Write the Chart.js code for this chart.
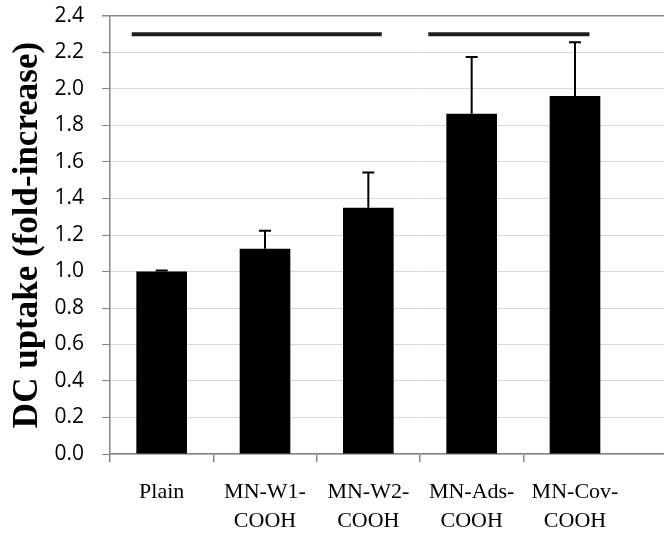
<!DOCTYPE html>
<html>
<head>
<meta charset="utf-8">
<script src="https://cdn.jsdelivr.net/npm/chart.js@4/dist/chart.umd.min.js"></script>
<style>
  html, body { margin: 0; padding: 0; background: #fff; overflow: hidden; }
  #wrap { width: 664px; height: 535px; overflow: hidden; }
  canvas { display: block; }
</style>
</head>
<body>
<div id="wrap"><canvas id="chart" width="740" height="535"></canvas></div>
<script>
// Groups on the x axis (two-line labels)
const categories = [
  ['Plain'],
  ['MN-W1-', 'COOH'],
  ['MN-W2-', 'COOH'],
  ['MN-Ads-', 'COOH'],
  ['MN-Cov-', 'COOH']
];
// Mean DC uptake (fold-increase) and upper error (SD)
const uptake = [1.00, 1.125, 1.35, 1.865, 1.962];
const uptakeErr = [0.005, 0.098, 0.192, 0.311, 0.294];
// Y axis ticks
const yTicks = [0.0, 0.2, 0.4, 0.6, 0.8, 1.0, 1.2, 1.4, 1.6, 1.8, 2.0, 2.2, 2.4];
// Significance brackets: level and span in category units
const sigLevel = 2.3;
const sigSpanA = [-0.29, 2.13];
const sigSpanB = [2.58, 4.14];

const axisGray = '#868686';
const gridGray = '#d9d9d9';

// Upward-only error bars drawn on top of each bar
const errorBars = {
  id: 'errorBars',
  afterDatasetsDraw(chart) {
    const meta = chart.getDatasetMeta(0);
    const y = chart.scales.y;
    const ctx = chart.ctx;
    ctx.save();
    ctx.strokeStyle = '#000';
    ctx.lineWidth = 2;
    meta.data.forEach((bar, i) => {
      if (uptake[i] == null) return;
      const yTop = y.getPixelForValue(uptake[i]);
      const yCap = y.getPixelForValue(uptake[i] + uptakeErr[i]);
      ctx.beginPath();
      ctx.moveTo(bar.x, yTop);
      ctx.lineTo(bar.x, yCap);
      ctx.moveTo(bar.x - 6, yCap);
      ctx.lineTo(bar.x + 6, yCap);
      ctx.stroke();
    });
    ctx.restore();
  }
};

// One spare empty slot keeps the plot running past the right edge
const xLabels = categories.concat(['']);
const barValues = uptake.concat([null]);

new Chart(document.getElementById('chart'), {
  type: 'bar',
  data: {
    labels: xLabels,
    datasets: [
      {
        type: 'bar',
        data: barValues,
        backgroundColor: '#000',
        borderWidth: 0,
        grouped: false,
        categoryPercentage: 0.49,
        barPercentage: 1.0,
        xAxisID: 'x',
        yAxisID: 'y',
        order: 2
      },
      {
        type: 'line',
        data: [{ x: sigSpanA[0], y: sigLevel }, { x: sigSpanA[1], y: sigLevel }],
        borderColor: '#1e1e1e',
        borderWidth: 4,
        pointRadius: 0,
        borderCapStyle: 'butt',
        xAxisID: 'xs',
        yAxisID: 'y',
        order: 1
      },
      {
        type: 'line',
        data: [{ x: sigSpanB[0], y: sigLevel }, { x: sigSpanB[1], y: sigLevel }],
        borderColor: '#1e1e1e',
        borderWidth: 4,
        pointRadius: 0,
        borderCapStyle: 'butt',
        xAxisID: 'xs',
        yAxisID: 'y',
        order: 1
      }
    ]
  },
  options: {
    responsive: false,
    animation: false,
    devicePixelRatio: 1,
    layout: { padding: { left: 0, right: 10, top: 16, bottom: 0 } },
    plugins: { legend: { display: false }, tooltip: { enabled: false } },
    scales: {
      x: {
        type: 'category',
        offset: true,
        afterFit(scale) { scale.height = 81; scale.paddingTop = 0; },
        grid: {
          offset: true,
          drawOnChartArea: false,
          drawTicks: true,
          tickLength: 8,
          lineWidth: 1.5,
          color: (c) => (c.index <= 4 ? axisGray : 'rgba(0,0,0,0)')
        },
        border: { display: true, color: axisGray, width: 1.5 },
        ticks: {
          color: '#000',
          padding: 16,
          maxRotation: 0,
          autoSkip: false,
          font: { family: '"Liberation Serif", "Times New Roman", serif', size: 22, lineHeight: 1.3 }
        }
      },
      xs: {
        type: 'linear',
        display: false,
        offset: false,
        grid: { offset: false },
        min: -0.5,
        max: 5.5
      },
      y: {
        min: 0,
        max: 2.4,
        afterBuildTicks(scale) {
          scale.ticks = yTicks.map(v => ({ value: v }));
        },
        afterFit(scale) { scale.width = 110; scale.paddingTop = 0; scale.paddingBottom = 0; },
        grid: {
          color: (c) => (c.tick && c.tick.value >= 2.4 ? axisGray : gridGray),
          lineWidth: (c) => (c.tick && c.tick.value >= 2.4 ? 1.5 : 1),
          tickColor: axisGray,
          tickLength: 8,
          drawTicks: true
        },
        border: { display: true, color: axisGray, width: 1.5 },
        ticks: {
          color: '#000',
          padding: 18,
          font: { family: '"Open Sans", sans-serif', size: 21 },
          callback: (v) => Number(v).toFixed(1)
        },
        title: {
          display: true,
          text: 'DC uptake (fold-increase)',
          color: '#000',
          padding: { top: 7, bottom: 0 },
          font: { family: '"Liberation Serif", "Times New Roman", serif', size: 35, weight: 'bold', lineHeight: 1.2 }
        }
      }
    }
  },
  plugins: [errorBars]
});
</script>
</body>
</html>
